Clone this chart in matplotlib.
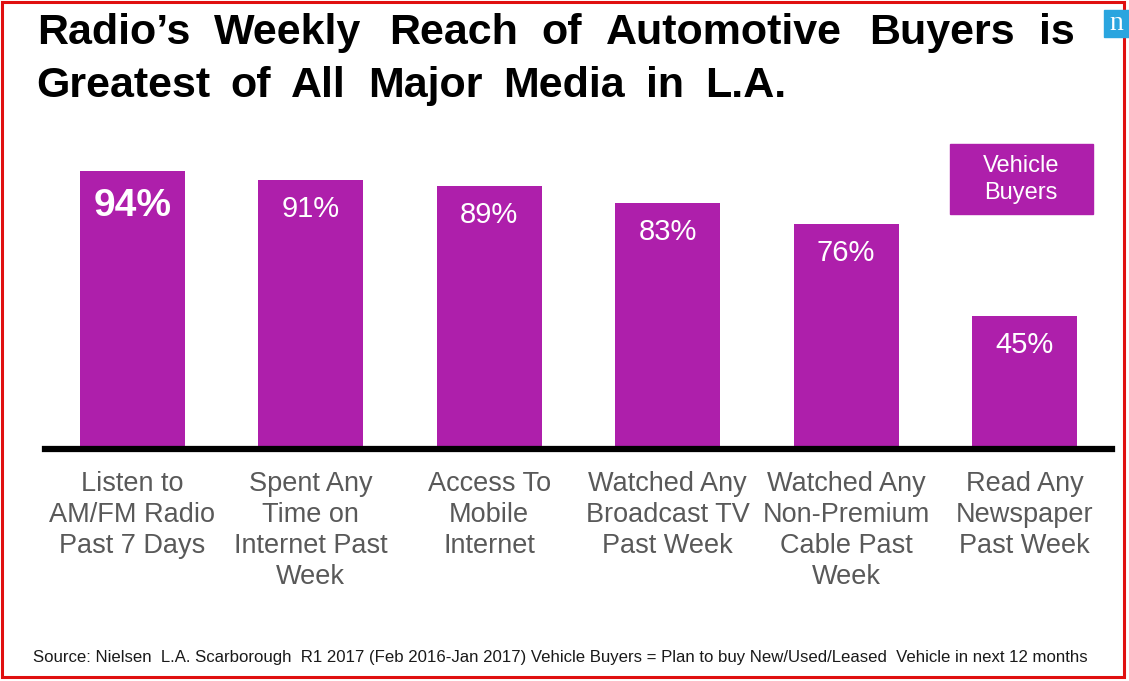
import matplotlib
matplotlib.use("Agg")
from matplotlib import pyplot as plt
from matplotlib.patches import Rectangle
from matplotlib.font_manager import FontProperties, findfont, get_font

plt.rcParams['font.family'] = ['Liberation Sans', 'DejaVu Sans']

# data
categories = ["Listen to\nAM/FM Radio\nPast 7 Days",
              "Spent Any\nTime on\nInternet Past\nWeek",
              "Access To\nMobile\nInternet",
              "Watched Any\nBroadcast TV\nPast Week",
              "Watched Any\nNon-Premium\nCable Past\nWeek",
              "Read Any\nNewspaper\nPast Week"]
reach = [94, 91, 89, 83, 76, 45]
series_name = "Vehicle\nBuyers"

title_lines = ["Radio\u2019s Weekly Reach of Automotive Buyers is",
               "Greatest of All Major Media in L.A."]
source = ("Source: Nielsen  L.A. Scarborough  R1 2017 (Feb 2016-Jan 2017) Vehicle Buyers = "
          "Plan to buy New/Used/Leased  Vehicle in next 12 months")

bar_col = '#AE1FAB'
W, H = 1129, 681

fig = plt.figure(figsize=(W / 100, H / 100), dpi=100)


def word_width(w, size, weight):
    fp = FontProperties(family='Liberation Sans', weight=weight, size=size)
    font = get_font(findfont(fp))
    font.set_size(size, 100)
    adv = 0.0
    bear0 = 0.0
    for i, c in enumerate(w):
        g = font.load_char(ord(c))
        adv += g.linearHoriAdvance / 65536
        if i == 0:
            bear0 = g.horiBearingX / 64
    return adv, bear0


def justified(s, x0, x1, y, size, weight='normal', color='black'):
    # the slide title has wide word gaps, spread words to span x0..x1 (pixels)
    words = s.split(' ')
    mets = [word_width(w, size, weight) for w in words]
    gap = (x1 - x0 - sum(m[0] for m in mets)) / (len(words) - 1)
    pen = x0
    for w, (wd, b) in zip(words, mets):
        if w:
            fig.text((pen + b) / W, 1 - y / H, w, ha='left', va='baseline',
                     fontsize=size, fontweight=weight, color=color)
        pen += wd + gap


ax = fig.add_axes([45 / W, (H - 449) / H, (1112 - 45) / W, 296 / H])

x = list(range(len(reach)))
ax.bar(x, reach, width=0.59, color=bar_col, zorder=2)
ax.set_xlim(-0.49, 5.49)
ax.set_ylim(0, 100)

# value labels inside bar tops, first one bold
for i, v in enumerate(reach):
    if i == 0:
        ax.annotate(f"{v}%", (i, v), xytext=(0, -25.5), textcoords='offset points',
                    ha='center', va='center', color='white', fontsize=28, fontweight='bold')
    else:
        ax.annotate(f"{v}%", (i, v), xytext=(0, -21), textcoords='offset points',
                    ha='center', va='center', color='white', fontsize=21)

ax.axhline(0, color='black', lw=4.5, zorder=3, clip_on=False)

ax.set_xticks(x, categories, fontsize=19.5, color='#595959', linespacing=1.25)
ax.tick_params(axis='x', length=0, pad=16)
ax.set_yticks([])
for s in ax.spines.values():
    s.set_visible(False)

# title
justified(title_lines[0], 34, 1072, 44, 31, weight='bold')
justified(title_lines[1], 34, 783, 97, 31, weight='bold')

# legend box
fig.patches.append(Rectangle((950 / W, 1 - 214 / H), 143 / W, 70 / H,
                             transform=fig.transFigure, color=bar_col, zorder=1))
fig.text(1021 / W, 1 - 179.5 / H, series_name, ha='center', va='center',
         fontsize=17, color='white', linespacing=1.3)

# source line
fig.text(33 / W, 1 - 662 / H, source, ha='left', va='baseline', fontsize=12.1,
         color='#1a1a1a')

# small logo in corner
fig.patches.append(Rectangle((1104 / W, 1 - 37 / H), 25 / W, 27 / H,
                             transform=fig.transFigure, color='#2aa5df', zorder=5))
fig.text(1116 / W, 1 - 24 / H, "n", ha='center', va='center', fontsize=20,
         color='white', family=['Liberation Serif', 'DejaVu Serif'], zorder=6)

# red frame
fig.patches.append(Rectangle((1.5 / W, 1 - 677 / H), 1122 / W, 675 / H,
                             transform=fig.transFigure, fill=False,
                             edgecolor='#e01010', lw=2.2, zorder=4))

fig.savefig("out.png", dpi=100)
